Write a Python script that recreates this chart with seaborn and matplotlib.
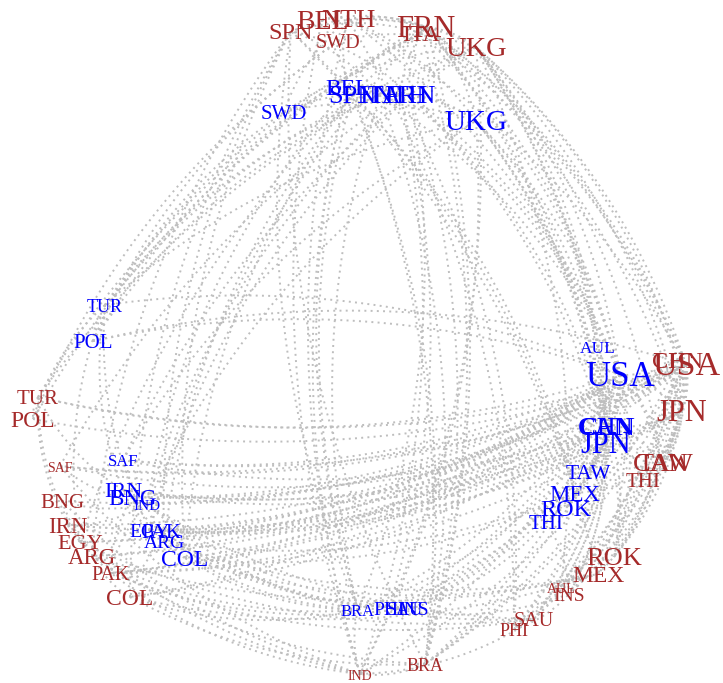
import matplotlib
matplotlib.use("Agg")
import matplotlib.pyplot as plt
import matplotlib.transforms as mtransforms
import seaborn as sns
import numpy as np
import pandas as pd

#%% node layout (two layers: red = outer, blue = inner)
countries = ['SPN', 'BEL', 'NTH', 'SWD', 'FRN', 'ITA', 'UKG',
             'CHN', 'USA', 'JPN', 'CAN', 'TAW', 'THI', 'ROK', 'MEX', 'AUL', 'INS', 'SAU', 'PHI',
             'BRA', 'IND', 'COL', 'PAK', 'ARG', 'EGY', 'IRN', 'BNG', 'SAF', 'POL', 'TUR']

red_x = [291, 322, 348, 338, 426, 421, 476,
         678, 686, 682, 661, 665, 643, 614, 598, 561, 569, 534, 514,
         425, 360, 130, 111, 92, 80, 68, 62, 60, 33, 38]
red_y = [31, 20, 19, 41, 27, 33, 47,
         360, 365, 411, 463, 463, 480, 557, 574, 587, 594, 619, 629,
         664, 674, 597, 573, 556, 542, 525, 501, 466, 419, 397]
red_size = [17.5, 20, 19, 14.5, 22, 17, 20.5,
            17.5, 24.5, 22, 19, 19, 15, 19, 17, 10, 14, 14.5, 13,
            13, 10, 17, 14.5, 16.5, 16, 16.5, 15, 10, 17, 15]

blue_x = [352, 348, 400, 284, 410, 380, 476,
          608, 620, 606, 606, 588, 546, 566, 575, 598, 413, 405, 389,
          358, 147, 185, 161, 164, 150, 123, 132, 123, 93, 105]
blue_y = [95, 87, 95, 112, 95, 95, 121,
          427, 375, 443, 427, 472, 522, 508, 493, 347, 608, 608, 608,
          610, 504, 558, 531, 541, 530, 490, 497, 460, 341, 305]
blue_size = [19, 17, 19, 15, 19, 19, 21,
             19, 25, 22, 19, 15.5, 15, 17.5, 16.5, 12.5, 14, 13, 14,
             12, 11, 17, 15, 14, 14, 16, 16.5, 12, 15, 13]

#%% ties between countries
ties = [('BEL', 'NTH'), ('BEL', 'FRN'), ('NTH', 'FRN'), ('FRN', 'ITA'), ('FRN', 'SPN'),
        ('ITA', 'SPN'), ('UKG', 'FRN'), ('UKG', 'NTH'), ('SWD', 'UKG'), ('SWD', 'NTH'),
        ('USA', 'UKG'), ('USA', 'FRN'), ('USA', 'ITA'), ('USA', 'NTH'), ('CHN', 'FRN'),
        ('CHN', 'UKG'), ('JPN', 'UKG'), ('CAN', 'UKG'), ('JPN', 'FRN'), ('AUL', 'UKG'),
        ('USA', 'CAN'), ('USA', 'MEX'), ('USA', 'JPN'), ('USA', 'CHN'), ('USA', 'ROK'),
        ('USA', 'TAW'), ('USA', 'BRA'), ('USA', 'COL'), ('USA', 'SAU'), ('USA', 'IND'),
        ('USA', 'PHI'), ('USA', 'EGY'), ('USA', 'PAK'), ('USA', 'TUR'), ('USA', 'ARG'),
        ('CHN', 'JPN'), ('CHN', 'ROK'), ('CHN', 'TAW'), ('CHN', 'AUL'), ('CHN', 'BRA'),
        ('CHN', 'IRN'), ('CHN', 'PAK'), ('CHN', 'SAF'), ('CHN', 'INS'), ('CHN', 'THI'),
        ('CHN', 'SAU'), ('JPN', 'ROK'), ('JPN', 'TAW'), ('JPN', 'THI'), ('JPN', 'AUL'),
        ('JPN', 'INS'), ('JPN', 'PHI'), ('IND', 'BNG'), ('IND', 'PAK'), ('IND', 'IRN'),
        ('IND', 'SAU'), ('IND', 'SAF'), ('IRN', 'TUR'), ('TUR', 'POL'), ('POL', 'ITA'),
        ('TUR', 'ITA'), ('TUR', 'UKG'), ('EGY', 'SAU'), ('EGY', 'FRN'), ('SAF', 'UKG'),
        ('BRA', 'ARG'), ('BRA', 'COL'), ('ARG', 'SPN'), ('COL', 'SPN'), ('MEX', 'SPN'),
        ('MEX', 'CAN'), ('PHI', 'INS'), ('THI', 'INS'), ('SAU', 'PAK'), ('BNG', 'PAK'),
        ('EGY', 'IRN'), ('ARG', 'COL'), ('BRA', 'SPN'), ('BRA', 'IND'), ('TUR', 'EGY'),
        ('POL', 'SWD'), ('BEL', 'IND'), ('NTH', 'IND'), ('UKG', 'IND'), ('FRN', 'BRA'),
        ('ITA', 'BRA'), ('IRN', 'JPN'), ('PAK', 'JPN'), ('BEL', 'BRA'), ('NTH', 'PHI'),
        ('POL', 'USA'), ('SAF', 'USA'), ('BNG', 'USA'), ('COL', 'MEX'), ('ARG', 'MEX')]

red = dict(zip(countries, zip(red_x, red_y)))
blue = dict(zip(countries, zip(blue_x, blue_y)))

#%% build curved edges (quadratic bezier bending away from centre)
centre = np.array([370.0, 370.0])
t = np.linspace(0, 1, 40)
rows = []
k = 0
for pos_a, pos_b in [(red, red), (blue, blue), (blue, red)]:
    for a, b in ties:
        p0 = np.array(pos_a[a], dtype=float)
        p2 = np.array(pos_b[b], dtype=float)
        mid = (p0 + p2) / 2
        d = p2 - p0
        n = np.array([-d[1], d[0]])
        n = n / (np.linalg.norm(n) + 1e-9)
        if np.dot(n, mid - centre) < 0:
            n = -n
        p1 = mid + n * 0.14 * np.linalg.norm(d)
        xs = (1 - t) ** 2 * p0[0] + 2 * (1 - t) * t * p1[0] + t ** 2 * p2[0]
        ys = (1 - t) ** 2 * p0[1] + 2 * (1 - t) * t * p1[1] + t ** 2 * p2[1]
        for xx, yy in zip(xs, ys):
            rows.append((k, xx, yy))
        k += 1
edges = pd.DataFrame(rows, columns=['edge', 'x', 'y'])

#%% plot
sns.set_theme(style='white')
plt.rcParams['font.family'] = ['Liberation Serif', 'DejaVu Serif']

fig = plt.figure(figsize=(7.23, 6.83), dpi=100)
ax = fig.add_axes([0, 0, 1, 1])

sns.lineplot(data=edges, x='x', y='y', units='edge', estimator=None, sort=False,
             color='#BEBEBE', linewidth=1.4, linestyle=(0, (1, 2.2)), ax=ax)

# labels: nudge down a little so the capitals sit on the read-off centres
shift = mtransforms.offset_copy(ax.transData, fig=fig, x=0, y=-1.5, units='points')
for c, s in zip(countries, red_size):
    ax.text(red[c][0], red[c][1], c, color='#A52A2A', fontsize=s,
            ha='center', va='center', transform=shift)
for c, s in zip(countries, blue_size):
    ax.text(blue[c][0], blue[c][1], c, color='#0000FF', fontsize=s,
            ha='center', va='center', transform=shift)

ax.set_xlim(0, 723)
ax.set_ylim(683, 0)
ax.axis('off')

plt.savefig('out.png', dpi=100)
